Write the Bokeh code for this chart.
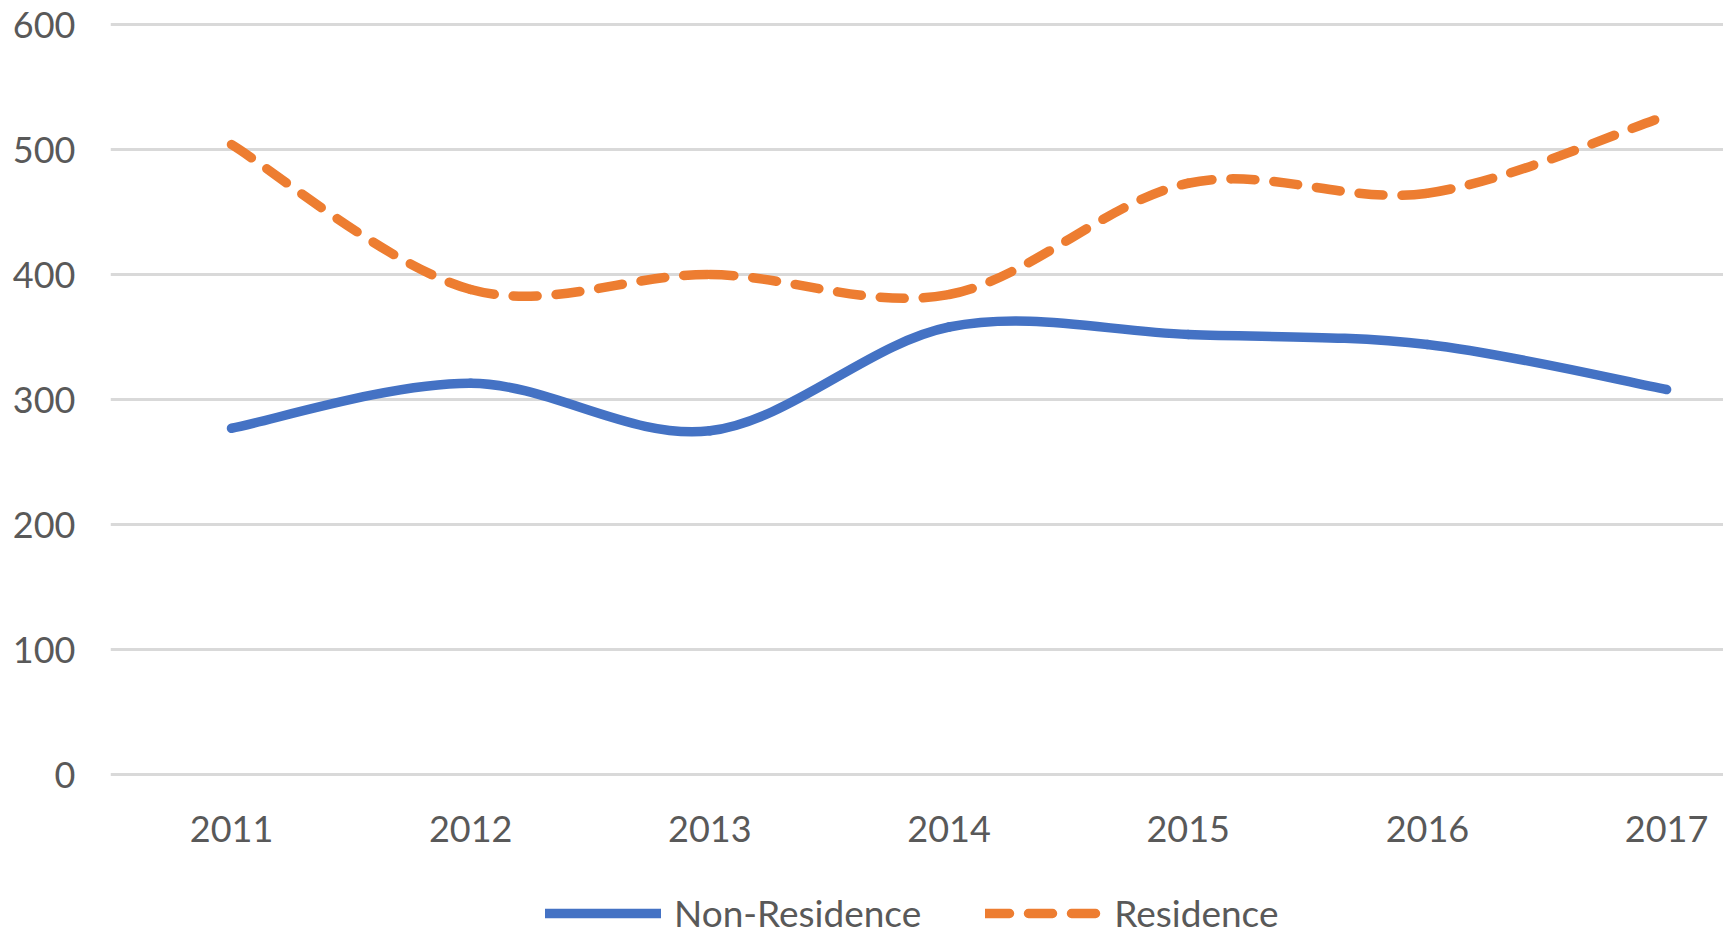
from bokeh.plotting import figure
from bokeh.models import FixedTicker, Range1d, Legend, LegendItem, ColumnDataSource
from bokeh.embed import file_html
from bokeh.resources import INLINE

# ---- data ----
years = [2011, 2012, 2013, 2014, 2015, 2016, 2017]
non_residence = [277, 313, 275, 358, 352, 344, 308]
residence = [504, 388, 400, 384, 473, 465, 527]
y_ticks = [0, 100, 200, 300, 400, 500, 600]
series_names = ["Non-Residence", "Residence"]
series_colors = ["#4472C4", "#ED7D31"]

TEXT = "#595959"
FONT = "Lato"


def smooth_segments(xs, ys, t=1.0 / 6.0):
    """Cubic Bezier segments (Excel-style smoothing) through the data points."""
    n = len(xs)
    d = dict(x0=[], y0=[], x1=[], y1=[], cx0=[], cy0=[], cx1=[], cy1=[])
    for i in range(n - 1):
        a = max(i - 1, 0)
        b = min(i + 2, n - 1)
        d["x0"].append(xs[i]); d["y0"].append(ys[i])
        d["x1"].append(xs[i + 1]); d["y1"].append(ys[i + 1])
        d["cx0"].append(xs[i] + (xs[i + 1] - xs[a]) * t)
        d["cy0"].append(ys[i] + (ys[i + 1] - ys[a]) * t)
        d["cx1"].append(xs[i + 1] - (xs[b] - xs[i]) * t)
        d["cy1"].append(ys[i + 1] - (ys[b] - ys[i]) * t)
    return ColumnDataSource(d)


# frame covers the whole lower area so the legend can sit inside it
p = figure(width=1723, height=939, output_backend="svg", toolbar_location=None,
           x_range=Range1d(2010.494, 2017.238), y_range=Range1d(-132, 604),
           min_border_left=110, min_border_right=0, min_border_top=19,
           min_border_bottom=0)
p.outline_line_color = None
p.background_fill_color = "white"
p.border_fill_color = "white"

r_non = p.bezier(x0="x0", y0="y0", x1="x1", y1="y1", cx0="cx0", cy0="cy0",
                 cx1="cx1", cy1="cy1", source=smooth_segments(years, non_residence),
                 line_color=series_colors[0], line_width=9.5, line_cap="round")
r_res = p.bezier(x0="x0", y0="y0", x1="x1", y1="y1", cx0="cx0", cy0="cy0",
                 cx1="cx1", cy1="cy1", source=smooth_segments(years, residence),
                 line_color=series_colors[1], line_width=9.5, line_cap="round",
                 line_dash="24 19")

# axes
p.xaxis.ticker = FixedTicker(ticks=years)
p.xaxis.major_label_overrides = {y: str(y) for y in years}
p.xaxis.fixed_location = -4
p.yaxis.ticker = FixedTicker(ticks=y_ticks)
for ax in (p.xaxis, p.yaxis):
    ax.axis_line_color = None
    ax.major_tick_line_color = None
    ax.minor_tick_line_color = None
    ax.major_tick_out = 0
    ax.major_tick_in = 0
    ax.minor_tick_out = 0
    ax.minor_tick_in = 0
    ax.major_label_text_color = TEXT
    ax.major_label_text_font = FONT
    ax.major_label_text_font_size = "36px"
p.xaxis.major_label_standoff = 36
p.yaxis.major_label_standoff = 35

p.xgrid.grid_line_color = None
p.ygrid.grid_line_color = "#D9D9D9"
p.ygrid.grid_line_width = 3

legend = Legend(items=[LegendItem(label=series_names[0], renderers=[r_non]),
                       LegendItem(label=series_names[1], renderers=[r_res])],
                location=(435, 4), orientation="horizontal",
                glyph_width=116, glyph_height=42, label_height=42,
                label_standoff=13, spacing=64, padding=0, margin=0,
                border_line_color=None, background_fill_alpha=0,
                label_text_color=TEXT, label_text_font=FONT,
                label_text_font_size="37px")
p.add_layout(legend, "center")

open("out.html", "w").write(file_html(p, INLINE))
